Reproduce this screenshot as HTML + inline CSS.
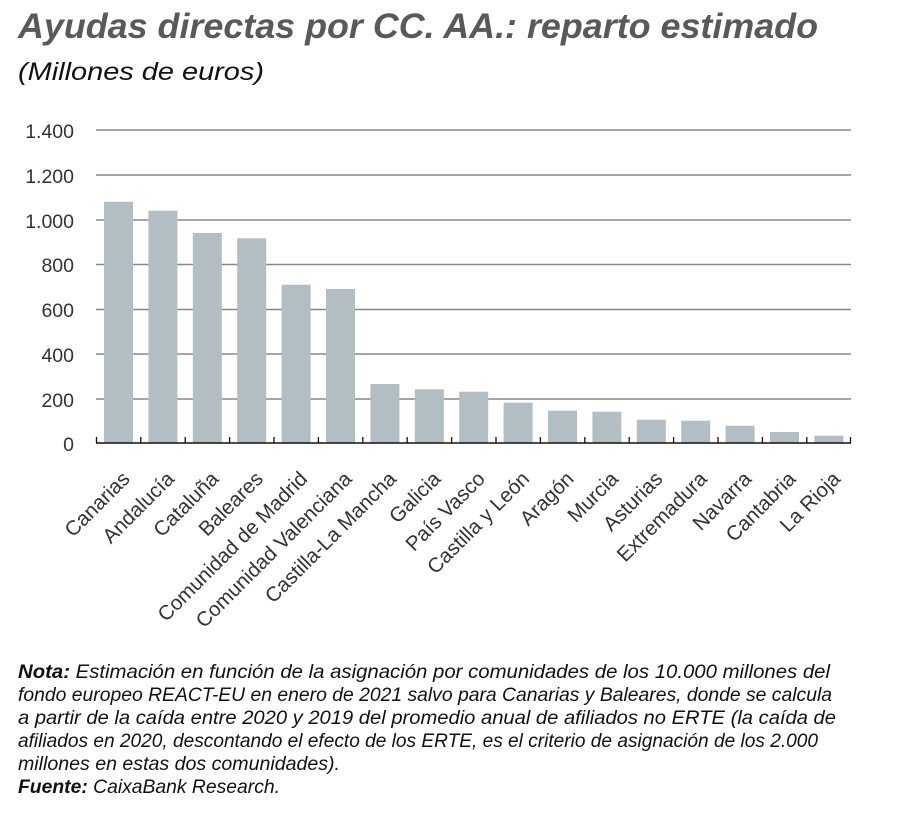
<!DOCTYPE html>
<html><head><meta charset="utf-8"><style>
html,body{margin:0;padding:0;background:#fff;}
svg{display:block;}
</style></head><body>
<svg width="900" height="836" viewBox="0 0 900 836" xmlns="http://www.w3.org/2000/svg" font-family="Liberation Sans, sans-serif">
<text x="18" y="38" font-size="35" font-weight="bold" font-style="italic" fill="#58595b" textLength="800" lengthAdjust="spacingAndGlyphs">Ayudas directas por CC. AA.: reparto estimado</text>
<text x="18" y="80" font-size="25" font-style="italic" fill="#111" textLength="246" lengthAdjust="spacingAndGlyphs">(Millones de euros)</text>
<g stroke="#888" stroke-width="1.5">
<line x1="96" x2="851" y1="130" y2="130"/>
<line x1="96" x2="851" y1="175" y2="175"/>
<line x1="96" x2="851" y1="220" y2="220"/>
<line x1="96" x2="851" y1="264.5" y2="264.5"/>
<line x1="96" x2="851" y1="309.5" y2="309.5"/>
<line x1="96" x2="851" y1="354" y2="354"/>
<line x1="96" x2="851" y1="399" y2="399"/>
</g>
<g font-size="19.5" fill="#333" text-anchor="end">
<text x="74" y="138">1.400</text>
<text x="74" y="183">1.200</text>
<text x="74" y="228">1.000</text>
<text x="74" y="272">800</text>
<text x="74" y="317">600</text>
<text x="74" y="362">400</text>
<text x="74" y="407">200</text>
<text x="74" y="451">0</text>
</g>
<g fill="#b2bec3">
<rect x="104" y="201.7" width="29" height="241"/>
<rect x="148.4" y="210.7" width="29" height="232"/>
<rect x="192.8" y="233" width="29" height="210"/>
<rect x="237.2" y="238.3" width="29" height="205"/>
<rect x="281.6" y="284.7" width="29" height="158"/>
<rect x="326" y="289" width="29" height="154"/>
<rect x="370.4" y="384" width="29" height="59"/>
<rect x="414.8" y="389.3" width="29" height="54"/>
<rect x="459.2" y="391.7" width="29" height="51"/>
<rect x="503.6" y="402.7" width="29" height="40"/>
<rect x="548" y="410.7" width="29" height="32"/>
<rect x="592.4" y="411.7" width="29" height="31"/>
<rect x="636.8" y="419.7" width="29" height="23"/>
<rect x="681.2" y="420.7" width="29" height="22"/>
<rect x="725.6" y="425.7" width="29" height="17"/>
<rect x="770" y="432" width="29" height="11"/>
<rect x="814.4" y="435.7" width="29" height="7"/>
</g>
<line x1="96" x2="851" y1="443" y2="443" stroke="#111" stroke-width="1.5"/>
<g stroke="#111" stroke-width="1.3">
<line x1="96.5" x2="96.5" y1="437" y2="443"/><line x1="140.8" x2="140.8" y1="437" y2="443"/><line x1="185.2" x2="185.2" y1="437" y2="443"/><line x1="229.6" x2="229.6" y1="437" y2="443"/><line x1="274" x2="274" y1="437" y2="443"/><line x1="318.4" x2="318.4" y1="437" y2="443"/><line x1="362.8" x2="362.8" y1="437" y2="443"/><line x1="407.2" x2="407.2" y1="437" y2="443"/><line x1="451.6" x2="451.6" y1="437" y2="443"/><line x1="496" x2="496" y1="437" y2="443"/><line x1="540.4" x2="540.4" y1="437" y2="443"/><line x1="584.8" x2="584.8" y1="437" y2="443"/><line x1="629.2" x2="629.2" y1="437" y2="443"/><line x1="673.6" x2="673.6" y1="437" y2="443"/><line x1="718" x2="718" y1="437" y2="443"/><line x1="762.4" x2="762.4" y1="437" y2="443"/><line x1="806.8" x2="806.8" y1="437" y2="443"/><line x1="850.5" x2="850.5" y1="437" y2="443"/>
</g>
<g font-size="20.5" fill="#333" text-anchor="end">
<text transform="translate(131,480) rotate(-45)">Canarias</text>
<text transform="translate(175.4,480) rotate(-45)">Andalucía</text>
<text transform="translate(219.8,480) rotate(-45)">Cataluña</text>
<text transform="translate(264.2,480) rotate(-45)">Baleares</text>
<text transform="translate(308.6,480) rotate(-45)">Comunidad de Madrid</text>
<text transform="translate(353,480) rotate(-45)">Comunidad Valenciana</text>
<text transform="translate(397.4,480) rotate(-45)">Castilla-La Mancha</text>
<text transform="translate(441.8,480) rotate(-45)">Galicia</text>
<text transform="translate(486.2,480) rotate(-45)">País Vasco</text>
<text transform="translate(530.6,480) rotate(-45)">Castilla y León</text>
<text transform="translate(575,480) rotate(-45)">Aragón</text>
<text transform="translate(619.4,480) rotate(-45)">Murcia</text>
<text transform="translate(663.8,480) rotate(-45)">Asturias</text>
<text transform="translate(708.2,480) rotate(-45)">Extremadura</text>
<text transform="translate(752.6,480) rotate(-45)">Navarra</text>
<text transform="translate(797,480) rotate(-45)">Cantabria</text>
<text transform="translate(841.4,480) rotate(-45)">La Rioja</text>
</g>
<g font-size="19.5" font-style="italic" fill="#111">
<text x="18" y="678" textLength="812" lengthAdjust="spacingAndGlyphs"><tspan font-weight="bold">Nota:</tspan> Estimación en función de la asignación por comunidades de los 10.000 millones del</text>
<text x="18" y="701" textLength="814" lengthAdjust="spacingAndGlyphs">fondo europeo REACT-EU en enero de 2021 salvo para Canarias y Baleares, donde se calcula</text>
<text x="18" y="724" textLength="818" lengthAdjust="spacingAndGlyphs">a partir de la caída entre 2020 y 2019 del promedio anual de afiliados no ERTE (la caída de</text>
<text x="18" y="747" textLength="800" lengthAdjust="spacingAndGlyphs">afiliados en 2020, descontando el efecto de los ERTE, es el criterio de asignación de los 2.000</text>
<text x="18" y="770" textLength="322" lengthAdjust="spacingAndGlyphs">millones en estas dos comunidades).</text>
<text x="18" y="793" textLength="262" lengthAdjust="spacingAndGlyphs"><tspan font-weight="bold">Fuente:</tspan> CaixaBank Research.</text>
</g>
</svg>
</body></html>
